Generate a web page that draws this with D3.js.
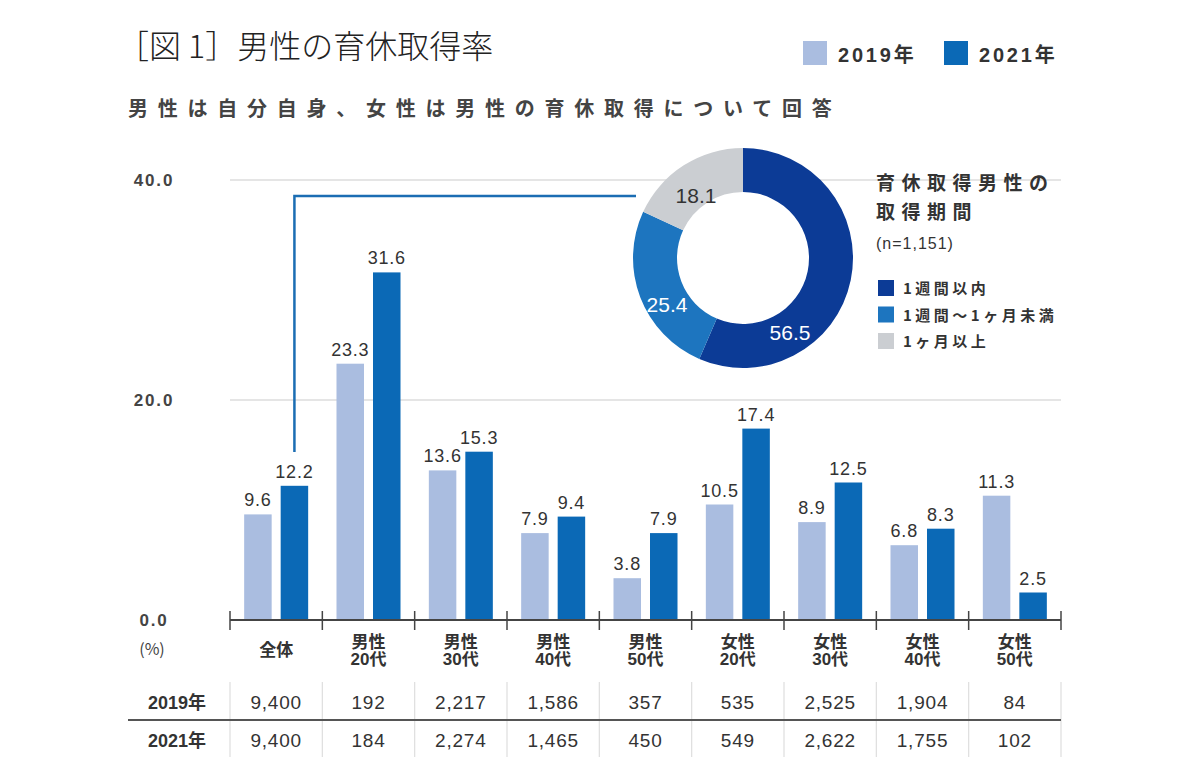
<!DOCTYPE html>
<html><head><meta charset="utf-8">
<script src="https://cdn.jsdelivr.net/npm/d3@7"></script>
<style>
html,body{margin:0;padding:0;background:#fff;}
svg{display:block;font-family:"Liberation Sans","Noto Sans CJK JP",sans-serif;}
</style></head>
<body>
<svg id="c" width="1200" height="778"></svg>
<script>
// ---- data ----
const categories = ["全体","男性\n20代","男性\n30代","男性\n40代","男性\n50代","女性\n20代","女性\n30代","女性\n40代","女性\n50代"];
const seriesNames = ["2019年","2021年"];
const values2019 = [9.6,23.3,13.6,7.9,3.8,10.5,8.9,6.8,11.3];
const values2021 = [12.2,31.6,15.3,9.4,7.9,17.4,12.5,8.3,2.5];
const n2019 = ["9,400","192","2,217","1,586","357","535","2,525","1,904","84"];
const n2021 = ["9,400","184","2,274","1,465","450","549","2,622","1,755","102"];
const yTicks = [0,20,40];
const donutLabels = ["1週間以内","1週間〜1ヶ月未満","1ヶ月以上"];
const donutValues = [56.5,25.4,18.1];
const donutTitle = ["育休取得男性の","取得期間"];
const donutN = "(n=1,151)";

const barColors = ["#aabde0","#0b69b6"];
const donutColors = ["#0c3b96","#1d75bf","#cbced2"];

const svg = d3.select("#c");

// ---- scales ----
const x = d3.scaleBand().domain(d3.range(categories.length)).range([230,1061]).paddingInner(0).paddingOuter(0);
const xs = d3.scaleBand().domain([0,1]).range([0,x.bandwidth()]).paddingInner(0.2466).paddingOuter(0.388);
const y = d3.scaleLinear().domain([0,40]).range([620,180]);

// ---- titles ----
svg.append("text").attr("x",117).attr("y",58).attr("font-size",32).attr("fill","#222")
  .attr("font-family","'Noto Sans CJK JP',sans-serif").attr("font-weight",300)
  .text("［図 1］男性の育休取得率");
svg.append("text").attr("x",128).attr("y",116).attr("font-size",20).attr("fill","#444")
  .attr("font-family","'Noto Sans CJK JP',sans-serif").attr("font-weight",700)
  .attr("letter-spacing","9.75px")
  .text("男性は自分自身、女性は男性の育休取得について回答");

// top legend
const legX = [803,944];
seriesNames.forEach((s,i)=>{
  svg.append("rect").attr("x",legX[i]).attr("y",41).attr("width",24).attr("height",24).attr("fill",barColors[i]);
  svg.append("text").attr("x",legX[i]+35).attr("y",62).attr("font-size",20).attr("font-weight",700)
    .attr("fill","#333").attr("letter-spacing","2.8px").text(s);
});

// ---- grid ----
svg.append("g").selectAll("line").data(yTicks.filter(d=>d>0)).join("line")
  .attr("x1",230).attr("x2",1061).attr("y1",d=>y(d)).attr("y2",d=>y(d))
  .attr("stroke","#dcdcdc").attr("stroke-width",1.5);
svg.append("g").selectAll("text").data(yTicks).join("text")
  .attr("x",154).attr("y",d=>y(d)+6).attr("text-anchor","middle").attr("font-size",17)
  .attr("font-weight",700).attr("fill","#444").attr("letter-spacing","1.8px")
  .text(d=>d.toFixed(1));
svg.append("text").attr("x",152).attr("y",655).attr("text-anchor","middle").attr("font-size",16)
  .attr("fill","#444").attr("font-family","'Noto Sans CJK JP',sans-serif").text("(%)");

// ---- connector line ----
svg.append("path")
  .attr("d",`M${x(0)+xs(1)+xs.bandwidth()/2},452 V196 H636`)
  .attr("fill","none").attr("stroke","#1b6db3").attr("stroke-width",2.5);

// ---- bars ----
const series = [values2019, values2021];
const gBars = svg.append("g");
series.forEach((vals,si)=>{
  gBars.selectAll(null).data(vals).join("rect")
    .attr("x",(d,i)=>x(i)+xs(si)).attr("width",xs.bandwidth())
    .attr("y",d=>y(d)).attr("height",d=>y(0)-y(d)).attr("fill",barColors[si]);
  gBars.selectAll(null).data(vals).join("text")
    .attr("x",(d,i)=>x(i)+xs(si)+xs.bandwidth()/2).attr("y",d=>y(d)-8)
    .attr("text-anchor","middle").attr("font-size",18).attr("font-weight",500)
    .attr("fill","#333").attr("letter-spacing","0.8px").text(d=>d.toFixed(1));
});

// ---- axis ----
svg.append("line").attr("x1",230).attr("x2",1061).attr("y1",620).attr("y2",620)
  .attr("stroke","#444").attr("stroke-width",2);
const bounds = d3.range(categories.length+1).map(i=> i<categories.length ? x(i) : x(i-1)+x.bandwidth());
svg.append("g").selectAll("line").data(bounds).join("line")
  .attr("x1",d=>d).attr("x2",d=>d).attr("y1",611).attr("y2",630)
  .attr("stroke","#444").attr("stroke-width",1.5);

// category labels
const gCat = svg.append("g");
categories.forEach((c,i)=>{
  const lines = c.split("\n");
  const cx = x(i)+x.bandwidth()/2;
  const t = gCat.append("text").attr("text-anchor","middle").attr("font-size",17).attr("font-weight",700)
    .attr("fill","#333");
  if(lines.length===1){
    t.append("tspan").attr("x",cx).attr("y",656).text(lines[0]);
  } else {
    t.append("tspan").attr("x",cx).attr("y",648).text(lines[0]);
    t.append("tspan").attr("x",cx).attr("y",665).text(lines[1]);
  }
});

// ---- table ----
svg.append("g").selectAll("line").data(bounds).join("line")
  .attr("x1",d=>d).attr("x2",d=>d).attr("y1",682).attr("y2",757)
  .attr("stroke","#dedede").attr("stroke-width",1.2);
svg.append("line").attr("x1",128).attr("x2",1061).attr("y1",720).attr("y2",720)
  .attr("stroke","#555").attr("stroke-width",2);
[[seriesNames[0],n2019,702],[seriesNames[1],n2021,740]].forEach(([lab,arr,cy])=>{
  svg.append("text").attr("x",177).attr("y",cy+7).attr("text-anchor","middle").attr("font-size",18)
    .attr("font-weight",700).attr("fill","#333").text(lab);
  svg.append("g").selectAll("text").data(arr).join("text")
    .attr("x",(d,i)=>x(i)+x.bandwidth()/2).attr("y",cy+7).attr("text-anchor","middle")
    .attr("font-size",19).attr("font-weight",500).attr("fill","#333").attr("letter-spacing","0.8px").text(d=>d);
});

// ---- donut ----
const cx0 = 743, cy0 = 258;
const pie = d3.pie().sort(null).value(d=>d)(donutValues);
const arc = d3.arc().innerRadius(66).outerRadius(110);
const gD = svg.append("g").attr("transform",`translate(${cx0},${cy0})`);
gD.selectAll("path").data(pie).join("path").attr("d",arc).attr("fill",(d,i)=>donutColors[i]);
const labPos = [[47,79],[-76,51],[-47,-58]];
gD.selectAll("text").data(pie).join("text")
  .attr("x",(d,i)=>labPos[i][0]).attr("y",(d,i)=>labPos[i][1]-4)
  .attr("dy","0.35em").attr("text-anchor","middle").attr("font-size",21).attr("font-weight",500)
  .attr("fill",(d,i)=>i===2?"#333":"#fff").text(d=>d.data.toFixed(1));

// donut legend
svg.append("text").attr("x",876).attr("y",190).attr("font-size",19).attr("font-weight",700)
  .attr("fill","#333").attr("letter-spacing","6.5px").attr("font-family","'Noto Sans CJK JP',sans-serif").text(donutTitle[0]);
svg.append("text").attr("x",876).attr("y",219).attr("font-size",19).attr("font-weight",700)
  .attr("fill","#333").attr("letter-spacing","6.5px").attr("font-family","'Noto Sans CJK JP',sans-serif").text(donutTitle[1]);
svg.append("text").attr("x",876).attr("y",249).attr("font-size",16).attr("font-weight",500)
  .attr("fill","#333").attr("letter-spacing","1px").text(donutN);
donutLabels.forEach((l,i)=>{
  const yy = 280 + i*26.5;
  svg.append("rect").attr("x",878).attr("y",yy).attr("width",16).attr("height",16).attr("fill",donutColors[i]);
  svg.append("text").attr("x",903).attr("y",yy+14).attr("font-size",15).attr("font-weight",700)
    .attr("fill","#333").attr("letter-spacing","3.5px").attr("font-family","'Noto Sans CJK JP',sans-serif").text(l);
});
</script>
</body></html>
